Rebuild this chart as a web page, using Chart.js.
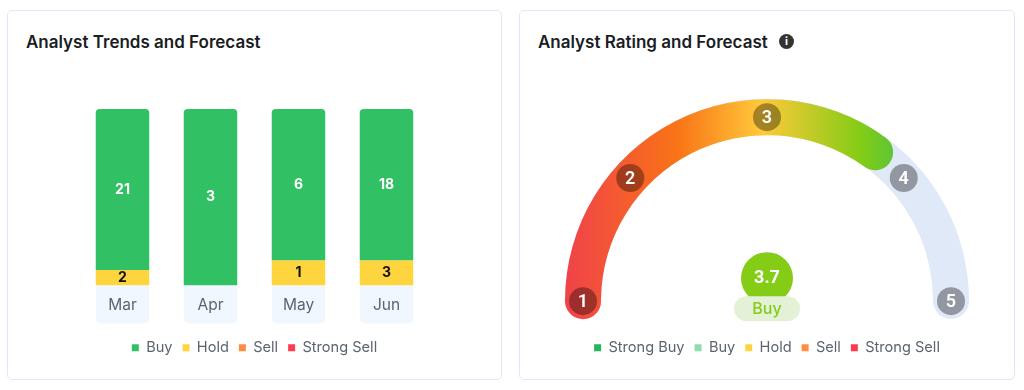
<!DOCTYPE html>
<html>
<head>
<meta charset="utf-8">
<script src="https://cdn.jsdelivr.net/npm/chart.js@4"></script>
<style>
html,body{margin:0;padding:0;background:#fff;width:1024px;height:390px;overflow:hidden}
.card{position:absolute;box-sizing:border-box;top:10px;height:370px;border:1px solid #dfe8f6;border-radius:5px;background:#fff}
#c1{left:7px;width:495px}
#c2{left:519px;width:496px}
.title{position:absolute;top:32px;font:600 17px Inter,sans-serif;color:#1a1d24;line-height:20px;white-space:nowrap}
.info{position:absolute;left:779px;top:34px;width:15px;height:15px;border-radius:50%;background:#333;color:#fff;font:700 11px/15px Inter,sans-serif;text-align:center}
canvas{position:absolute;top:0;left:0}
</style>
</head>
<body>
<div class="card" id="c1"></div>
<div class="card" id="c2"></div>
<div class="title" style="left:26px">Analyst Trends and Forecast</div>
<div class="title" style="left:538px">Analyst Rating and Forecast</div>
<div class="info">i</div>
<div style="position:absolute;left:8px;top:0;width:493px;height:365px"><canvas id="bars"></canvas></div>
<div style="position:absolute;left:520px;top:0;width:494px;height:365px"><canvas id="track"></canvas></div>
<div style="position:absolute;left:520px;top:0;width:494px;height:365px"><canvas id="fill"></canvas></div>
<script>
const months = ['Mar','Apr','May','Jun'];
const buy = [21,3,6,18];
const hold = [2,0,1,3];
const sell = [0,0,0,0];
const strongSell = [0,0,0,0];
const trendNames = ['Buy','Hold','Sell','Strong Sell'];
const trendColors = ['#31c063','#ffd53f','#ff8c42','#ff3b52'];

const ratingNames = ['Strong Buy','Buy','Hold','Sell','Strong Sell'];
const ratingColors = ['#22b75b','#8fdcae','#ffd53f','#ff8c42','#ff3b52'];
const ratingTicks = ['1','2','3','4','5'];
const tickDegrees = [0,42,90,138,180];
const ratingValue = '3.7';
const ratingLabel = 'Buy';
const gaugeDegrees = [126];

const FONT = 'Inter, sans-serif';
const LEG = {font:{family:FONT,size:14.6},color:'#5c6470',usePointStyle:true,pointStyle:'rect',boxWidth:7,boxHeight:7,padding:10};
Chart.defaults.responsive = false;

const totals = months.map((_,i)=>buy[i]+hold[i]+sell[i]+strongSell[i]);
const share = a => a.map((v,i)=>v/totals[i]*100);
const raw = [buy,hold,sell,strongSell];

const bandPlugin = {id:'band',beforeDatasetsDraw(ch){
  const m=ch.getDatasetMeta(0), c=ch.ctx, b=ch.chartArea.bottom;
  c.save();c.fillStyle='#f0f7ff';
  m.data.forEach(e=>{c.beginPath();c.roundRect(e.x-e.width/2,b,e.width,38,[0,0,5,5]);c.fill();});
  c.restore();
}};
const valuePlugin = {id:'vals',afterDatasetsDraw(ch){
  const c=ch.ctx;c.save();c.textAlign='center';c.textBaseline='middle';
  ch.data.datasets.forEach((d,di)=>{
    ch.getDatasetMeta(di).data.forEach((e,i)=>{
      if(!raw[di][i])return;
      c.fillStyle=di===0?'#fff':'#111';
      c.font='700 14px '+FONT;
      c.fillText(String(raw[di][i]),e.x,(e.y+e.base)/2);
    });
  });
  c.restore();
}};
const bc=document.getElementById('bars');bc.width=493;bc.height=365;
new Chart(bc,{type:'bar',
  data:{labels:months,datasets:raw.map((a,i)=>({
    label:trendNames[i],data:share(a),backgroundColor:trendColors[i],
    borderRadius:i===0?{topLeft:4,topRight:4,bottomLeft:0,bottomRight:0}:0,borderSkipped:false,
    categoryPercentage:1,barPercentage:0.608}))},
  options:{animation:false,layout:{padding:{left:70.5,right:70.5,top:109,bottom:0}},
    plugins:{tooltip:{enabled:false},legend:{position:'bottom',labels:LEG}},
    scales:{
      x:{stacked:true,grid:{display:false},border:{display:false},
        ticks:{color:'#5c6470',font:{family:FONT,size:15.5},padding:3,maxRotation:0,z:1},
        afterFit(s){s.height=45;}},
      y:{stacked:true,reverse:true,min:0,max:100,display:false}}},
  plugins:[bandPlugin,valuePlugin]});

const CAP = 5.6;
const ROT = -90-CAP, CIRC = 180+2*CAP;
const OUT = 202, IN = 166;
const CUT = (IN/OUT*100)+'%';
function grad(ch){
  const g=ch.ctx.createLinearGradient(45,0,373,0);
  g.addColorStop(0,'#f0424a');g.addColorStop(.34,'#f97316');g.addColorStop(.6,'#ffc93a');
  g.addColorStop(.9,'#84cc16');g.addColorStop(1,'#5fc535');
  return g;
}
const tc=document.getElementById('track');tc.width=494;tc.height=365;
new Chart(tc,{type:'doughnut',
  data:{labels:ratingNames,datasets:[{data:[1],backgroundColor:'#e0e9f8',borderWidth:0,borderRadius:18}]},
  options:{animation:false,rotation:ROT,circumference:CIRC,radius:OUT,cutout:CUT,
    layout:{padding:{top:89}},
    plugins:{tooltip:{enabled:false},legend:{position:'bottom',labels:{...LEG,
      generateLabels:()=>ratingNames.map((n,i)=>({text:n,fillStyle:ratingColors[i],strokeStyle:ratingColors[i],lineWidth:0,pointStyle:'rect',fontColor:'#5c6470'}))}}}}});

const tickPlugin={id:'ticks',afterDatasetsDraw(ch){
  const e=ch.getDatasetMeta(0).data[0],c=ch.ctx,r=(OUT+IN)/2;
  c.save();c.textAlign='center';c.textBaseline='middle';
  ratingTicks.forEach((t,i)=>{
    const a=Math.PI+tickDegrees[i]*Math.PI/180, x=e.x+r*Math.cos(a), y=e.y+r*Math.sin(a);
    c.fillStyle='rgba(0,0,0,.35)';c.beginPath();c.arc(x,y,14,0,Math.PI*2);c.fill();
    c.fillStyle='#fff';c.font='600 18px Roboto, sans-serif';c.fillText(t,x,y+1);
  });
  const cx=e.x,cy=e.y;
  c.fillStyle='#84cc16';c.beginPath();c.arc(cx,cy-23,26,0,Math.PI*2);c.fill();
  c.fillStyle='#e3f1d7';c.beginPath();c.roundRect(cx-33,cy-5,66,25,12.5);c.fill();
  c.fillStyle='#fff';c.font='700 18px Roboto, sans-serif';c.fillText(ratingValue,cx,cy-23);
  c.fillStyle='#84cc16';c.font='500 16px '+FONT;c.fillText(ratingLabel,cx,cy+8);
  c.restore();
}};
const fc=document.getElementById('fill');fc.width=494;fc.height=365;
new Chart(fc,{type:'doughnut',
  data:{labels:['rating','rest'],datasets:[{data:[gaugeDegrees[0]+CAP*2,CIRC-gaugeDegrees[0]-CAP*2],
    backgroundColor:c=>c.dataIndex===0?grad(c.chart):'rgba(0,0,0,0)',borderWidth:0,
    borderRadius:c=>c.dataIndex===0?18:0}]},
  options:{animation:false,rotation:ROT,circumference:CIRC,radius:OUT,cutout:CUT,
    layout:{padding:{top:89,bottom:34}},
    plugins:{tooltip:{enabled:false},legend:{display:false}}},
  plugins:[tickPlugin]});
</script>
</body>
</html>
